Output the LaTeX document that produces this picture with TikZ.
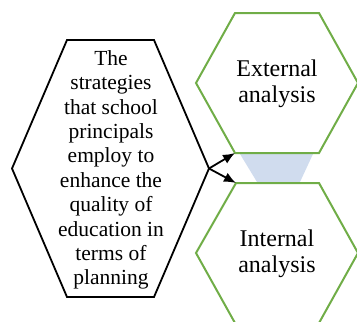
\documentclass[tikz,border=0pt]{standalone}
\usepackage{fontspec}
\setmainfont{Liberation Serif}
\usetikzlibrary{arrows.meta}
\definecolor{hexgreen}{HTML}{70AD47}
\definecolor{gapblue}{HTML}{D0DCEE}

\begin{document}
\begin{tikzpicture}[x=1pt, y=-1pt,
    blackhex/.style={draw=black, line width=1.8pt},
    greenhex/.style={draw=hexgreen, line width=2pt},
    bigtext/.style={align=center, inner sep=0pt, font=\fontsize{21.5}{24.4}\selectfont},
    smalltext/.style={align=center, inner sep=0pt, font=\fontsize{24}{25.5}\selectfont},
    link/.style={-{Latex[length=12pt, width=10pt]}, line width=1.8pt}
]
    \useasboundingbox (0,0) rectangle (357,322);

    % corners of the three hexagons
    \coordinate (sL) at (12,168.5);
    \coordinate (sR) at (209,168.5);
    \coordinate (eL) at (196,83);
    \coordinate (eR) at (358,83);
    \coordinate (eBL) at (235,153);
    \coordinate (iL) at (196,253);
    \coordinate (iR) at (358,253);
    \coordinate (iTL) at (236,183);

    % band between the green hexagons
    \fill[gapblue] (240,154) -- (313,154) -- (300,182) -- (257,182) -- cycle;

    \draw[blackhex] (sL) -- (67,40) -- (154,40) -- (sR) -- (154,297) -- (67,297) -- cycle;
    \draw[greenhex] (eL) -- (235,13) -- (319,13) -- (eR) -- (319,153) -- (eBL) -- cycle;
    \draw[greenhex] (iL) -- (iTL) -- (319,183) -- (iR) -- (319,323) -- (235,323) -- cycle;

    \node[bigtext] (strat) at (111,170) {The\\strategies\\that school\\principals\\employ to\\enhance the\\quality of\\education in\\terms of\\planning};
    \node[smalltext] (ext) at (277,84) {External\\analysis};
    \node[smalltext] (int) at (277,254) {Internal\\analysis};

    \draw[link] (sR) -- (eBL);
    \draw[link] (sR) -- (iTL);
\end{tikzpicture}
\end{document}
